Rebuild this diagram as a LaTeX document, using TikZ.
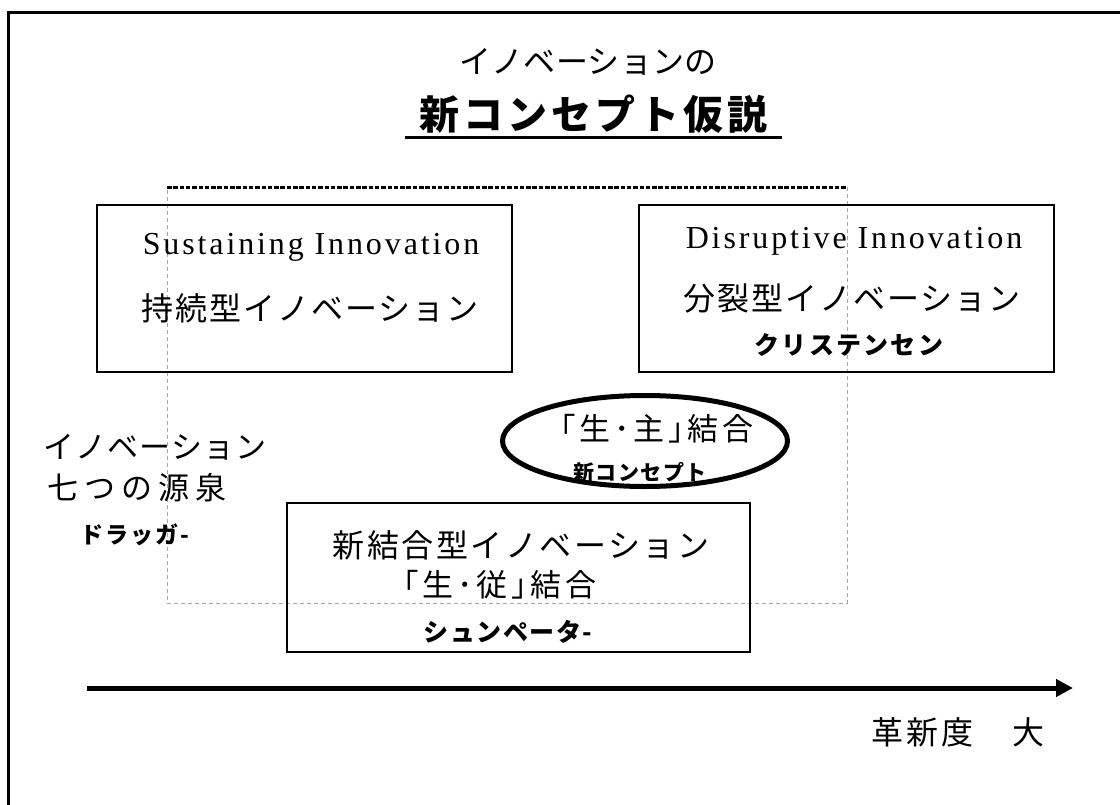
\documentclass[tikz,border=0pt]{standalone}
\usepackage{fontspec}
\setmainfont{Liberation Serif}
\newfontfamily\jp{Noto Sans CJK JP}
\usetikzlibrary{arrows.meta,shapes.geometric}
\newcommand{\jsz}[2]{\fontsize{#1bp}{#1bp}\selectfont\addfontfeatures{LetterSpace=#2}}
\tikzset{
  txt/.style={inner sep=0pt, outer sep=0pt, anchor=center},
  box/.style={draw, line width=1.6bp, inner sep=0pt, outer sep=0pt},
  region/.style={draw=gray!70, line width=0.8bp, dash pattern=on 4bp off 3bp},
  regiontop/.style={draw=black, line width=3bp, dash pattern=on 4.5bp off 1.8bp},
}
\begin{document}
\begin{tikzpicture}[x=1bp,y=-1bp]
\useasboundingbox (0,0) rectangle (1120,805);
% outer frame
\draw[line width=3bp] (8,13) rectangle (1135,820);
% title
\node[txt, font=\jp\jsz{32}{1}] (t1) at (588,62) {イノベーションの};
\node[txt, font=\jp\bfseries\jsz{40}{10}] (t2) at (593,114) {新コンセプト仮説};
\draw[line width=3bp] (405,137) -- (782,137);
% dashed region
\coordinate (r1) at (167,187);
\coordinate (r2) at (847,187);
\coordinate (r3) at (847,603);
\coordinate (r4) at (167,603);
\draw[region] (r2) -- (r3) -- (r4) -- (r1);
\draw[regiontop] (r1) -- (r2);
% boxes
\node[box, minimum width=415bp, minimum height=167bp] (lbox) at (304.5,288.5) {};
\node[box, minimum width=415bp, minimum height=167bp] (rbox) at (846.5,288.5) {};
\node[box, minimum width=463bp, minimum height=149bp] (bbox) at (518.5,577.5) {};
% left box text
\node[txt, font=\jsz{32}{9}] (sus) at (311,247) {Sustaining Innovation};
\node[txt, font=\jp\jsz{32}{6}] (susj) at (310,308) {持続型イノベーション};
% right box text
\node[txt, font=\jsz{32}{9}] (dis) at (854,241) {Disruptive Innovation};
\node[txt, font=\jp\jsz{32}{6}] (disj) at (852,298) {分裂型イノベーション};
\node[txt, font=\jp\bfseries\jsz{25}{9}] (chr) at (849,345) {クリステンセン};
% ellipse
\node[draw, ellipse, line width=5bp, inner sep=0pt, minimum width=285bp, minimum height=91bp] (ell) at (645,441) {};
\node[txt, font=\jp\jsz{31}{12}] (ss) at (657,429) {｢生･主｣結合};
\node[txt, font=\jp\bfseries\jsz{21}{7}] (nc) at (640,472) {新コンセプト};
% left text
\node[txt, font=\jp\jsz{31}{4}] (l1) at (155,447) {イノベーション};
\node[txt, font=\jp\jsz{31}{20}] (l2) at (137,488) {七つの源泉};
\node[txt, font=\jp\bfseries\jsz{23}{8}] (l3) at (135,535) {ドラッガ-};
% bottom box text
\node[txt, font=\jp\jsz{32}{8}] (b1) at (521,545) {新結合型イノベーション};
\node[txt, font=\jp\jsz{31}{12}] (b2) at (500,585) {｢生･従｣結合};
\node[txt, font=\jp\bfseries\jsz{25}{6}] (b3) at (508,632) {シュンペータ-};
% axis arrow
\coordinate (a0) at (87,688);
\coordinate (a1) at (1073,688);
\draw[line width=5bp, -{Triangle[length=17bp,width=17bp]}] (a0) -- (a1);
\node[txt, font=\jp\jsz{32}{10}] (deg) at (958,732) {革新度　大};
\end{tikzpicture}
\end{document}
